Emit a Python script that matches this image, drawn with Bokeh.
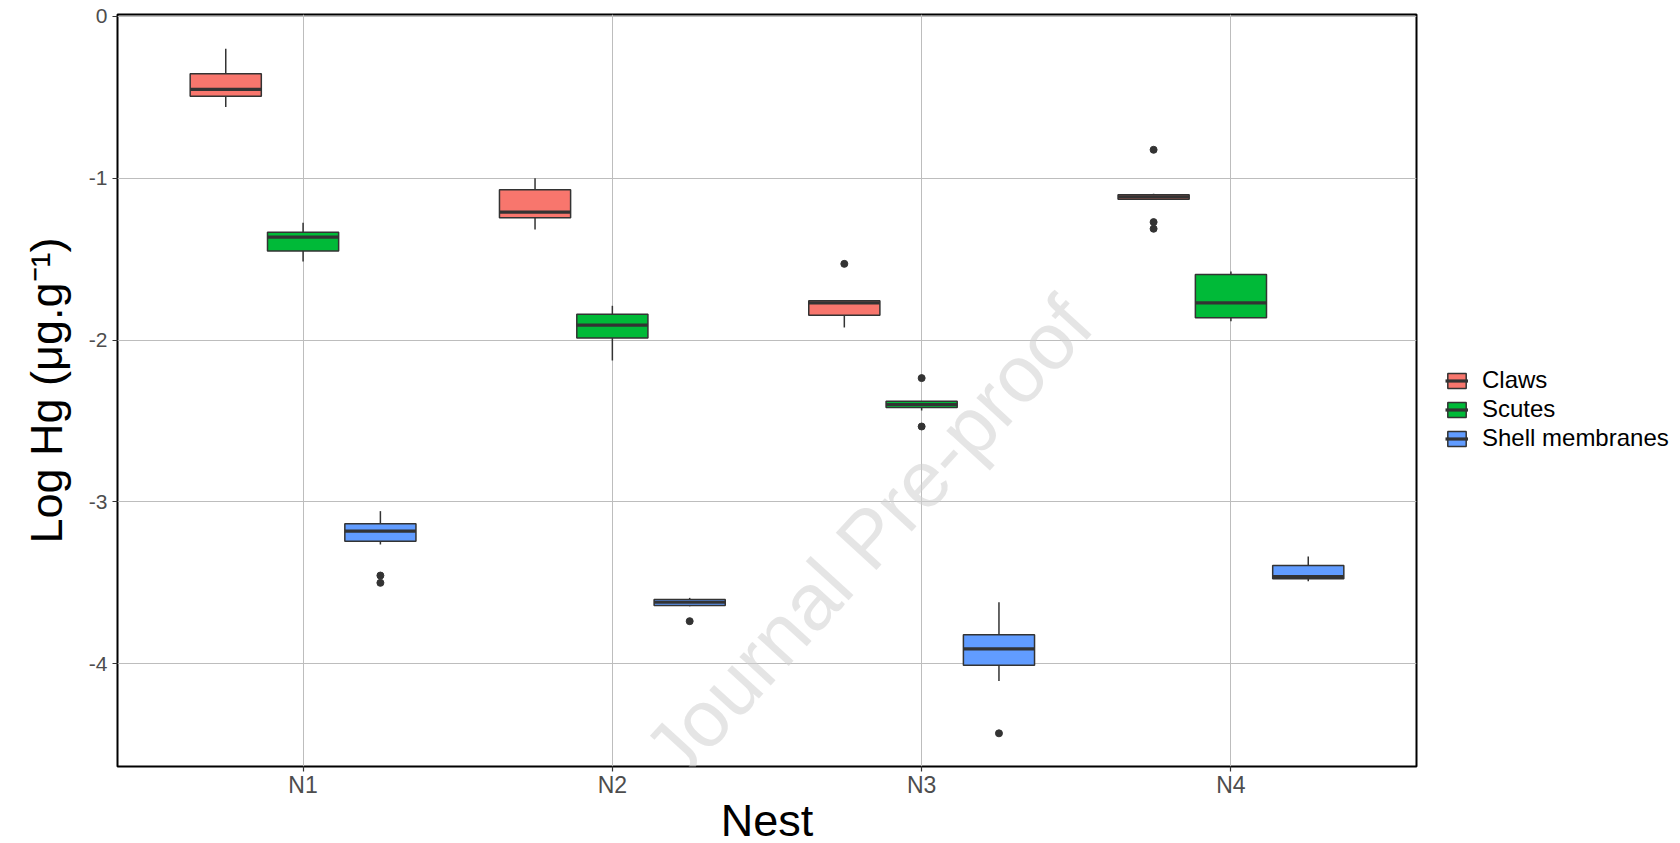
from bokeh.plotting import figure
from bokeh.models import (Range1d, FixedTicker, Legend, LegendItem, ColumnDataSource, Label,
                          VSpan)
from bokeh.embed import file_html
from bokeh.resources import INLINE

# ---------------- data ----------------
nests = ["N1", "N2", "N3", "N4"]
tissues = ["Claws", "Scutes", "Shell membranes"]
colors = ["#F8766D", "#00BA38", "#619CFF"]

claws_upper = [-0.20, -1.000, -1.755, -1.096]
claws_q3 = [-0.354, -1.071, -1.757, -1.102]
claws_median = [-0.451, -1.209, -1.770, -1.115]
claws_q1 = [-0.493, -1.244, -1.846, -1.130]
claws_lower = [-0.560, -1.316, -1.922, -1.133]
claws_out_nest = ["N3", "N4", "N4", "N4"]
claws_out_val = [-1.529, -0.824, -1.271, -1.312]

scutes_upper = [-1.275, -1.788, -2.378, -1.576]
scutes_q3 = [-1.333, -1.841, -2.378, -1.595]
scutes_median = [-1.364, -1.907, -2.398, -1.770]
scutes_q1 = [-1.450, -1.987, -2.417, -1.862]
scutes_lower = [-1.514, -2.126, -2.435, -1.883]
scutes_out_nest = ["N3", "N3"]
scutes_out_val = [-2.235, -2.534]

shell_upper = [-3.057, -3.593, -3.620, -3.337]
shell_q3 = [-3.135, -3.603, -3.821, -3.393]
shell_median = [-3.181, -3.620, -3.908, -3.461]
shell_q1 = [-3.243, -3.640, -4.009, -3.475]
shell_lower = [-3.263, -3.645, -4.106, -3.490]
shell_out_nest = ["N1", "N1", "N2", "N3"]
shell_out_val = [-3.455, -3.500, -3.737, -4.430]

y_ticks = [0, -1, -2, -3, -4]

series = [
    (claws_upper, claws_q3, claws_median, claws_q1, claws_lower, claws_out_nest, claws_out_val),
    (scutes_upper, scutes_q3, scutes_median, scutes_q1, scutes_lower, scutes_out_nest, scutes_out_val),
    (shell_upper, shell_q3, shell_median, shell_q1, shell_lower, shell_out_nest, shell_out_val),
]

# ---------------- figure ----------------
FONT = "Liberation Sans"
EDGE = "#333333"

p = figure(frame_width=1299, frame_height=752,
           x_range=Range1d(0.4, 4.6), y_range=Range1d(-4.635, 0.012),
           output_backend="svg", toolbar_location=None,
           min_border_left=117, min_border_top=14, min_border_right=0,
           min_border_bottom=0)
p.background_fill_color = "white"
p.border_fill_color = "white"
p.outline_line_color = "black"
p.outline_line_width = 2

offsets = [-0.25, 0.0, 0.25]
bw = 0.23
legend_items = []
for k, (up, q3, med, q1, lo, on, ov) in enumerate(series):
    xs = [i + 1 + offsets[k] for i in range(len(nests))]
    src = ColumnDataSource(dict(x=xs, left=[x - bw / 2 for x in xs],
                                right=[x + bw / 2 for x in xs],
                                up=up, q3=q3, med=med, q1=q1, lo=lo))
    p.segment(x0="x", x1="x", y0="q3", y1="up", source=src, line_color=EDGE, line_width=1.5)
    p.segment(x0="x", x1="x", y0="q1", y1="lo", source=src, line_color=EDGE, line_width=1.5)
    # empty span: only used to draw the whisker in the legend key
    whisk_key = p.add_glyph(ColumnDataSource(dict(x=[])),
                            VSpan(x="x", line_color=EDGE, line_width=1.5))
    box = p.quad(left="left", right="right", top="q3", bottom="q1", source=src,
                 fill_color=colors[k], line_color=EDGE, line_width=1.5)
    medr = p.segment(x0="left", x1="right", y0="med", y1="med", source=src,
                     line_color=EDGE, line_width=3.2)
    oxs = [nests.index(n) + 1 + offsets[k] for n in on]
    p.scatter(x=oxs, y=ov, size=7, fill_color=EDGE, line_color=EDGE)
    legend_items.append(LegendItem(label=tissues[k], renderers=[whisk_key, box, medr]))

# watermark (kept fully inside the panel)
wm = Label(x=2.827, y=-3.224, text="Journal Pre-proof", text_font=FONT,
           text_font_size="80px", text_color="#cfcfcf", text_alpha=0.55,
           angle=0.83, text_align="center", text_baseline="middle")
p.add_layout(wm)

# axes
p.xaxis.ticker = FixedTicker(ticks=[1, 2, 3, 4])
p.xaxis.major_label_overrides = {i + 1: n for i, n in enumerate(nests)}
p.yaxis.ticker = FixedTicker(ticks=y_ticks)
p.yaxis.major_label_overrides = {t: str(t) for t in y_ticks}

for ax in (p.xaxis[0], p.yaxis[0]):
    ax.axis_line_color = None
    ax.major_tick_out = 5
    ax.major_tick_in = 0
    ax.major_tick_line_color = EDGE
    ax.major_tick_line_width = 1.2
    ax.minor_tick_line_color = None
    ax.major_label_text_font = FONT
    ax.major_label_text_color = "#4d4d4d"
    ax.axis_label_text_font = FONT
    ax.axis_label_text_font_style = "normal"
    ax.axis_label_text_color = "black"
    ax.axis_label_text_font_size = "45px"

p.xaxis.axis_label = "Nest"
p.xaxis.major_label_text_font_size = "23px"
p.xaxis.major_label_standoff = 0
p.xaxis.axis_label_standoff = -6

p.yaxis.axis_label = "Log Hg (\u03bcg.g\u207b\u00b9)"
p.yaxis.major_label_text_font_size = "21px"
p.yaxis.major_label_standoff = 5
p.yaxis.axis_label_standoff = 14

p.xgrid.ticker = FixedTicker(ticks=[1, 2, 3, 4])
p.ygrid.ticker = FixedTicker(ticks=y_ticks)
for g in (p.xgrid[0], p.ygrid[0]):
    g.grid_line_color = "#bdbdbd"
    g.grid_line_width = 1
    g.minor_grid_line_color = None

legend = Legend(items=legend_items, location=(29, 314),
                label_text_font=FONT, label_text_font_size="24px",
                label_text_color="black", glyph_width=23, glyph_height=19,
                label_standoff=14, spacing=1, padding=6, margin=12,
                border_line_color=None, background_fill_color="white",
                label_height=22)
p.add_layout(legend, "right")

open("out.html", "w").write(file_html(p, INLINE))
